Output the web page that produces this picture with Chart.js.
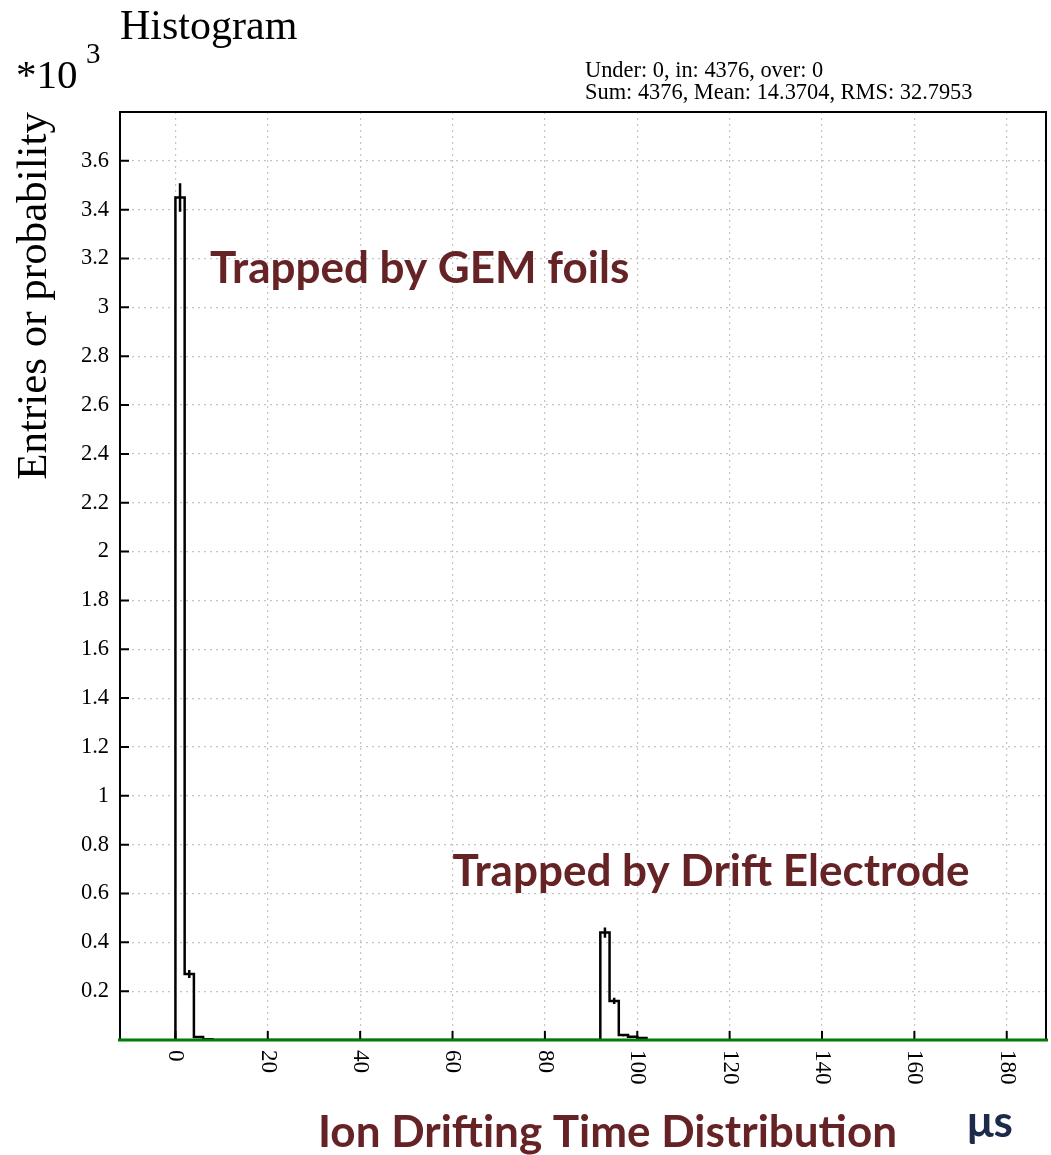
<!DOCTYPE html>
<html>
<head>
<meta charset="utf-8">
<script src="https://cdn.jsdelivr.net/npm/chart.js@4.4.1/dist/chart.umd.min.js"></script>
<style>
  body { margin: 0; background: #fff; }
  #wrap { width: 1051px; height: 1155px; }
</style>
</head>
<body>
<div id="wrap"><canvas id="hist"></canvas></div>
<script>
// histogram data: left edges of the non-empty bins (us) and their entries
var binWidth = 2;
var gemBins = [0, 2, 4, 6];
var gemEntries = [3450, 270, 12, 3];
var driftBins = [92, 94, 96, 98, 100];
var driftEntries = [440, 160, 20, 13, 8];

// axis ticks
var xTicks = [0, 20, 40, 60, 80, 100, 120, 140, 160, 180];
var yTicks = [0.2, 0.4, 0.6, 0.8, 1, 1.2, 1.4, 1.6, 1.8, 2, 2.2, 2.4, 2.6, 2.8, 3, 3.2, 3.4, 3.6];

var statLines = ["Under: 0, in: 4376, over: 0", "Sum: 4376, Mean: 14.3704, RMS: 32.7953"];

var serif = "'Liberation Serif', 'Times New Roman', serif";
var sans = "Lato, 'Open Sans', sans-serif";
var red = "#662325";

// outline of a group of bins (y in units of 10^3)
function outline(bins, entries) {
  var pts = [{x: bins[0], y: 0}];
  for (var i = 0; i < bins.length; i++) {
    pts.push({x: bins[i], y: entries[i] / 1000});
  }
  pts.push({x: bins[bins.length - 1] + binWidth, y: 0});
  return pts;
}

// sqrt(N) error bars at bin centres, separated by gaps
function errors(bins, entries) {
  var pts = [];
  for (var i = 0; i < bins.length; i++) {
    var c = bins[i] + binWidth / 2;
    var e = Math.sqrt(entries[i]);
    pts.push({x: c, y: (entries[i] - e) / 1000});
    pts.push({x: c, y: (entries[i] + e) / 1000});
    pts.push({x: c, y: null});
  }
  return pts;
}

var histPoints = outline(gemBins, gemEntries).concat(outline(driftBins, driftEntries));
var errPoints = errors(gemBins, gemEntries).concat(errors(driftBins, driftEntries));

// frame, inward ticks, rotated x labels and all the free text
var decorations = {
  id: 'decorations',
  afterDatasetsDraw: function(chart) {
    var ctx = chart.ctx;
    var a = chart.chartArea;
    var xs = chart.scales.x, ys = chart.scales.y;
    ctx.save();

    ctx.strokeStyle = '#000';
    ctx.lineWidth = 2;
    ctx.beginPath();
    xTicks.forEach(function(v) {
      var px = xs.getPixelForValue(v);
      ctx.moveTo(px, a.bottom);
      ctx.lineTo(px, a.bottom - 9);
    });
    yTicks.forEach(function(v) {
      var py = ys.getPixelForValue(v);
      ctx.moveTo(a.left, py);
      ctx.lineTo(a.left + 9, py);
    });
    ctx.stroke();
    ctx.strokeRect(a.left, a.top, a.right - a.left, a.bottom - a.top);

    ctx.strokeStyle = '#007a00';
    ctx.lineWidth = 3;
    ctx.beginPath();
    ctx.moveTo(a.left - 2, a.bottom);
    ctx.lineTo(a.right + 2, a.bottom);
    ctx.stroke();

    // x tick labels, reading top to bottom
    ctx.fillStyle = '#000';
    ctx.font = '23px ' + serif;
    ctx.textAlign = 'left';
    ctx.textBaseline = 'middle';
    xTicks.forEach(function(v) {
      ctx.save();
      ctx.translate(xs.getPixelForValue(v), a.bottom + 10);
      ctx.rotate(Math.PI / 2);
      ctx.fillText(String(v), 0, 0);
      ctx.restore();
    });

    ctx.textBaseline = 'alphabetic';
    ctx.font = '42px ' + serif;
    ctx.fillText('Histogram', 120, 39);
    ctx.font = '41px ' + serif;
    ctx.fillText('*10', 16, 88);
    ctx.font = '29px ' + serif;
    ctx.fillText('3', 86, 63);

    ctx.font = '22.4px ' + serif;
    ctx.fillText(statLines[0], 585, 77);
    ctx.fillText(statLines[1], 585, 99);

    ctx.fillStyle = red;
    ctx.font = 'bold 44px ' + sans;
    ctx.fillText('Trapped by GEM foils', xs.getPixelForValue(7.5), ys.getPixelForValue(3.1));
    ctx.fillText('Trapped by Drift Electrode', xs.getPixelForValue(60), ys.getPixelForValue(0.63));
    ctx.fillText('Ion Drifting Time Distribution', 318, 1147);

    ctx.fillStyle = '#1c2b4a';
    ctx.fillText('\u03bcs', 967, 1137);
    ctx.restore();
  }
};

new Chart(document.getElementById('hist'), {
  type: 'line',
  data: {
    datasets: [
      {
        label: 'hist',
        data: histPoints,
        stepped: 'before',
        borderColor: '#000',
        borderWidth: 2.5,
        pointRadius: 0,
        fill: false
      },
      {
        label: 'errors',
        data: errPoints,
        borderColor: '#000',
        borderWidth: 2.5,
        pointRadius: 0,
        spanGaps: false,
        fill: false
      }
    ]
  },
  options: {
    responsive: true,
    maintainAspectRatio: false,
    animation: false,
    layout: { padding: { top: 112, right: 5, left: 0, bottom: 0 } },
    plugins: {
      legend: { display: false },
      tooltip: { enabled: false }
    },
    scales: {
      x: {
        type: 'linear',
        min: -12,
        max: 188.5,
        afterBuildTicks: function(s) { s.ticks = xTicks.map(function(v) { return {value: v}; }); },
        afterFit: function(s) { s.height = 115; },
        ticks: { display: false },
        grid: { color: '#c4c4c4', lineWidth: 1.2, drawTicks: false },
        border: { display: false, dash: [2, 4] }
      },
      y: {
        min: 0,
        max: 3.8,
        afterBuildTicks: function(s) { s.ticks = yTicks.map(function(v) { return {value: v}; }); },
        afterFit: function(s) { s.width = 120; },
        ticks: {
          color: '#000',
          padding: 11,
          font: { family: serif, size: 22.5 },
          callback: function(v) { return String(+v.toFixed(1)); }
        },
        grid: { color: '#c4c4c4', lineWidth: 1.2, drawTicks: false },
        border: { display: false, dash: [2, 4] },
        title: {
          display: true,
          text: 'Entries or probability',
          align: 'end',
          color: '#000',
          font: { family: serif, size: 43 },
          padding: { top: 9 }
        }
      }
    }
  },
  plugins: [decorations]
});
</script>
</body>
</html>
